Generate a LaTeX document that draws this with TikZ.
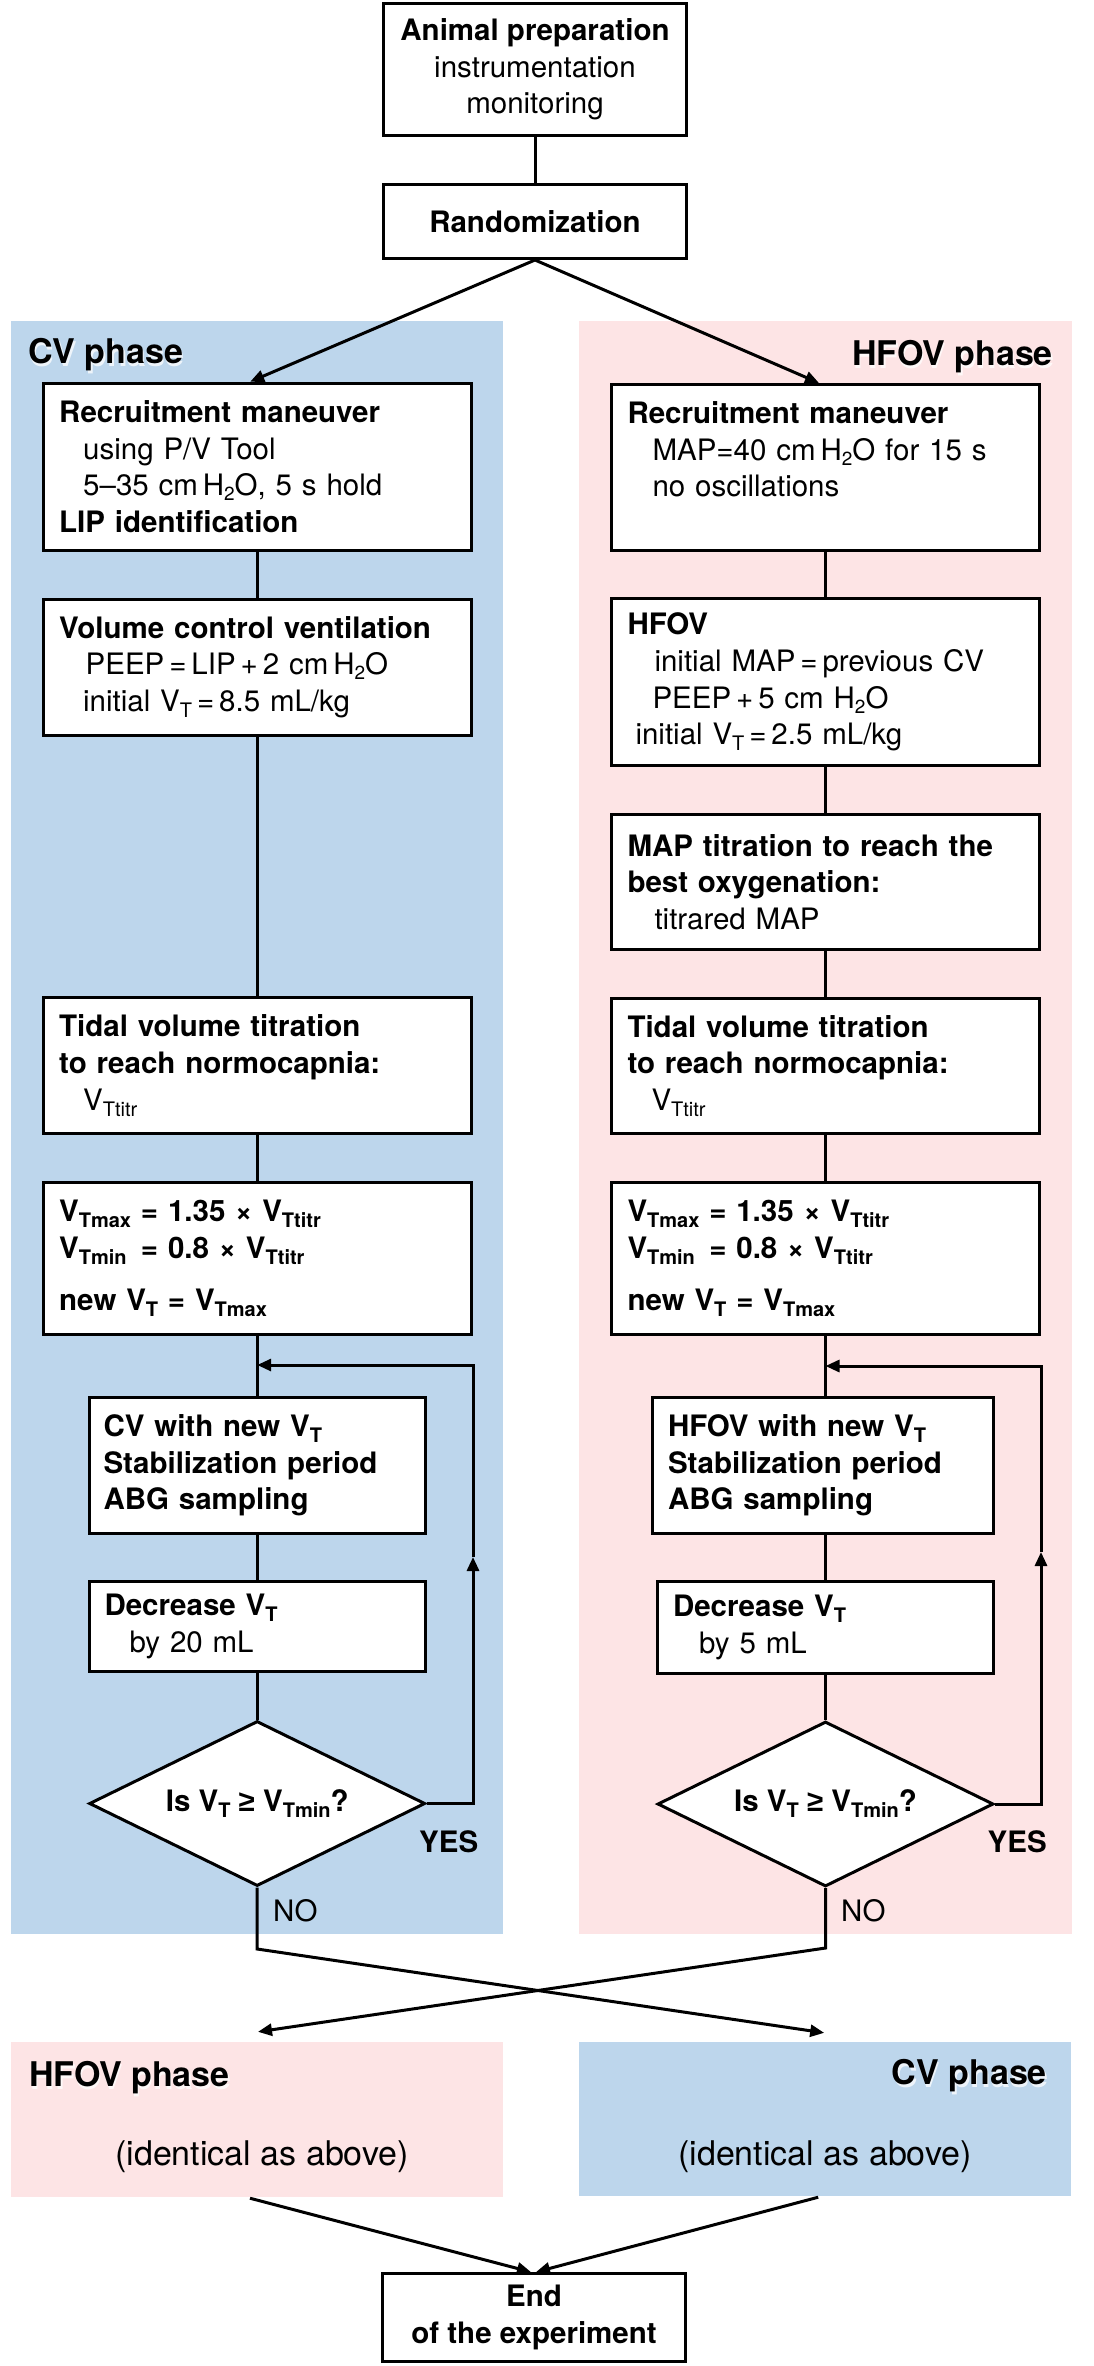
\documentclass[tikz,border=0pt]{standalone}
\usepackage{fontspec}
\setmainfont{TeX Gyre Heros}
\newfontfamily\symf{Liberation Sans}
\usetikzlibrary{arrows.meta,shapes.geometric,calc}
\definecolor{cvblue}{RGB}{189,214,236}
\definecolor{hfpink}{RGB}{253,228,229}
\newcommand\sbs[1]{\raisebox{-6pt}{\fontsize{20}{20}\selectfont #1}}
\newcommand\hsub[1]{\raisebox{-5pt}{\fontsize{19}{19}\selectfont #1}}
\begin{document}
\begin{tikzpicture}[x=1pt,y=-1pt,
  every node/.style={font=\fontsize{29.5}{36.7}\selectfont},
  box/.style={draw,line width=3pt,fill=white,inner ysep=0pt,align=left},
  cbox/.style={draw,line width=3pt,fill=white,inner sep=0pt,align=center},
  dia/.style={draw,line width=3pt,fill=white,diamond,aspect=2,inner sep=0pt,minimum width=336pt,minimum height=165pt},
  panel/.style={draw=none,inner sep=0pt},
  conn/.style={line width=3pt},
  arr/.style={conn,-{Triangle[length=14pt,width=12pt]}},
  phase/.style={inner sep=0pt,font=\fontsize{34}{40}\selectfont\bfseries},
  phaseglow/.style={phase,text=white,opacity=0.75},
  ident/.style={inner sep=0pt,font=\fontsize{34}{40}\selectfont},
  yes/.style={inner sep=0pt,font=\fontsize{29.5}{36.7}\selectfont\bfseries},
  no/.style={inner sep=0pt,font=\fontsize{29.5}{36.7}\selectfont},
]
\useasboundingbox (0,0) rectangle (1094,2366);
% ---------- panels
\node[panel,fill=cvblue,minimum width=491.7pt,minimum height=1613.3pt] (bgL) at (256.85,1127.35) {};
\node[panel,fill=hfpink,minimum width=492.6pt,minimum height=1613.3pt] (bgR) at (825.6,1127.35) {};
\node[panel,fill=hfpink,minimum width=492pt,minimum height=155pt] (pH) at (257,2119.5) {};
\node[panel,fill=cvblue,minimum width=492pt,minimum height=154pt] (pC) at (825.2,2119) {};
% ---------- panel labels
\node[phaseglow,anchor=base west] at (29.5,366) {CV phase};
\node[phase,anchor=base west] (tCV) at (28,363) {CV phase};
\node[phaseglow,anchor=base east] at (1054.5,368) {HFOV phase};
\node[phase,anchor=base east] (tHF) at (1053,365) {HFOV phase};
\node[phaseglow,anchor=base west] at (30.5,2089) {HFOV phase};
\node[phase,anchor=base west] (tHF2) at (29,2086) {HFOV phase};
\node[phaseglow,anchor=base east] at (1048.5,2087) {CV phase};
\node[phase,anchor=base east] (tCV2) at (1047,2084) {CV phase};
\node[ident,anchor=base] (iH) at (262,2165) {(identical as above)};
\node[ident,anchor=base] (iC) at (825,2165) {(identical as above)};
% ---------- top
\node[cbox,minimum width=303pt,minimum height=132pt] (top) at (535,69.5)
  {\textbf{Animal preparation}\\instrumentation\\monitoring};
\node[cbox,minimum width=303pt,minimum height=74pt] (rand) at (535,221.5)
  {\textbf{Randomization}};
% ---------- left column (CV)
\node[box,minimum width=428pt,minimum height=167pt,inner xsep=16pt,text width=396pt] (L1) at (257.2,466.7)
  {\textbf{Recruitment maneuver}\\
   \hspace*{24pt}using P/V Tool\\
   \hspace*{24pt}5–35 cm\,H\hsub{2}O, 5 s hold\\
   \textbf{LIP identification}};
\node[box,minimum width=428pt,minimum height=136pt,inner xsep=16pt,text width=396pt] (L2) at (257.2,667.2)
  {\textbf{Volume control ventilation}\\
   \hspace*{26.5pt}PEEP\,=\,LIP\,+\,2 cm\,H\hsub{2}O\\
   \hspace*{24pt}initial V\sbs{T}\,=\,8.5 mL/kg};
\node[box,minimum width=428pt,minimum height=136pt,inner xsep=16pt,text width=396pt] (Lt) at (257.2,1065.5)
  {\textbf{Tidal volume titration}\\
   \textbf{to reach normocapnia:}\\
   \hspace*{24pt}V\sbs{Ttitr}};
\node[box,minimum width=428pt,minimum height=152pt,inner xsep=16pt,text width=396pt] (Lm) at (257.2,1258.5)
  {\textbf{V\sbs{Tmax} = 1.35 × V\sbs{Ttitr}}\\
   \textbf{V\sbs{Tmin}\hspace{4.5pt} = 0.8 × V\sbs{Ttitr}}\\[15pt]
   \textbf{new V\sbs{T} = V\sbs{Tmax}}};
\node[box,minimum width=336pt,minimum height=136pt,inner xsep=14pt,text width=308pt] (Ln) at (257.5,1465.5)
  {\textbf{CV with new V\sbs{T}}\\
   \textbf{Stabilization period}\\
   \textbf{ABG sampling}};
\node[box,minimum width=336pt,minimum height=90pt,inner xsep=15pt,text width=306pt] (Ld) at (257.5,1626.5)
  {\textbf{Decrease V\sbs{T}}\\
   \hspace*{25pt}by 20 mL};
\node[dia] (dL) at (257.2,1803.5) {\textbf{Is V\sbs{T} {\symf ≥} V\sbs{Tmin}?}};
% ---------- right column (HFOV)
\node[box,minimum width=428pt,minimum height=166pt,inner xsep=16pt,text width=396pt] (R1) at (825.5,467.5)
  {\textbf{Recruitment maneuver}\\
   \hspace*{25pt}MAP=40 cm\,H\hsub{2}O for 15 s\\
   \hspace*{25pt}no oscillations\\
   \mbox{}};
\node[box,minimum width=428pt,minimum height=167pt,inner xsep=16pt,text width=396pt] (R2) at (825.5,682)
  {\textbf{HFOV}\\
   \hspace*{27pt}initial MAP\,=\,previous CV\\
   \hspace*{25pt}PEEP\,+\,5 cm H\hsub{2}O\\
   \hspace*{8pt}initial V\sbs{T}\,=\,2.5 mL/kg};
\node[box,minimum width=428pt,minimum height=135pt,inner xsep=16pt,text width=396pt] (Rp) at (825.5,882)
  {\textbf{MAP titration to reach the}\\
   \textbf{best oxygenation:}\\
   \hspace*{27pt}titrared MAP};
\node[box,minimum width=428pt,minimum height=135pt,inner xsep=16pt,text width=396pt] (Rt) at (825.5,1066)
  {\textbf{Tidal volume titration}\\
   \textbf{to reach normocapnia:}\\
   \hspace*{24pt}V\sbs{Ttitr}};
\node[box,minimum width=428pt,minimum height=152pt,inner xsep=16pt,text width=396pt] (Rm) at (825.5,1258.5)
  {\textbf{V\sbs{Tmax} = 1.35 × V\sbs{Ttitr}}\\
   \textbf{V\sbs{Tmin}\hspace{4.5pt} = 0.8 × V\sbs{Ttitr}}\\[15pt]
   \textbf{new V\sbs{T} = V\sbs{Tmax}}};
\node[box,minimum width=341pt,minimum height=136pt,inner xsep=15.5pt,text width=310pt] (Rn) at (823,1465.5)
  {\textbf{HFOV with new V\sbs{T}}\\
   \textbf{Stabilization period}\\
   \textbf{ABG sampling}};
\node[box,minimum width=336pt,minimum height=92pt,inner xsep=15.5pt,text width=305pt] (Rd) at (825.5,1627.5)
  {\textbf{Decrease V\sbs{T}}\\
   \hspace*{26pt}by 5 mL};
\node[dia] (dR) at (825.5,1804) {\textbf{Is V\sbs{T} {\symf ≥} V\sbs{Tmin}?}};
% ---------- end
\node[cbox,minimum width=303pt,minimum height=88pt] (end) at (534,2317.5)
  {\textbf{End}\\\textbf{of the experiment}};
% ---------- YES / NO
\node[yes,anchor=base west] (yL) at (419,1852) {YES};
\node[yes,anchor=base west] (yR) at (987.5,1852) {YES};
\node[no,anchor=base west] (nLl) at (273,1921.7) {NO};
\node[no,anchor=base west] (nRl) at (841,1921.7) {NO};
% ---------- connectors
\draw[conn] (top) -- (rand);
\draw[arr] (rand.south) -- ($(L1.north)+(-7,0)$);
\draw[arr] (rand.south) -- ($(R1.north)+(-6.5,0)$);
\draw[conn] (L1) -- (L2);
\draw[conn] (L2) -- (Lt);
\draw[conn] (Lt) -- (Lm);
\draw[conn] (Lm.south) -- (Lm.south |- Ln.north);
\draw[conn] (Ln.south) -- (Ln.south |- Ld.north);
\draw[conn] (Ld.south) -- (Ld.south |- dL.north);
\draw[conn] (R1) -- (R2);
\draw[conn] (R2) -- (Rp);
\draw[conn] (Rp) -- (Rt);
\draw[conn] (Rt) -- (Rm);
\draw[conn] (Rm.south) -- (Rm.south |- Rn.north);
\draw[conn] (Rd.north |- Rn.south) -- (Rd.north);
\draw[conn] (Rd) -- (dR);
% loops
\coordinate (jL) at (257.2,1365);
\coordinate (kL) at (473,1365);
\coordinate (mL) at (473,1557);
\draw[arr] (dL.east) -| (mL);
\draw[arr] (mL) -- (kL) -- (jL);
\coordinate (jR) at (825.5,1366);
\coordinate (kR) at (1041,1366);
\coordinate (mR) at (1041,1552);
\draw[arr] (dR.east) -| (mR);
\draw[arr] (mR) -- (kR) -- (jR);
% NO branches (cross-over)
\coordinate (nL) at (257.2,1949);
\coordinate (nR) at (825.5,1948);
\draw[arr] (dL.south) -- (nL) -- ($(pC.north)+(-1,-9)$);
\draw[arr] (dR.south) -- (nR) -- ($(pH.north)+(1,-10)$);
% to end
\draw[arr] ($(pH.south)+(-7,1)$) -- ($(end.north)+(-3,0)$);
\draw[arr] ($(pC.south)+(-7,1)$) -- ($(end.north)+(2,0)$);
\end{tikzpicture}
\end{document}
